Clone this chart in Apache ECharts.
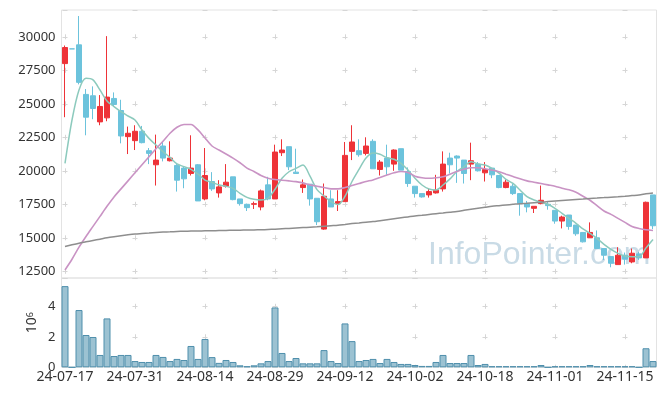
<!DOCTYPE html>
<html><head><meta charset="utf-8">
<script src="https://cdn.jsdelivr.net/npm/echarts@6/dist/echarts.min.js"></script>
<style>html,body{margin:0;padding:0;background:#fff}#c{width:665px;height:396px}</style>
</head><body><div id="c"></div>
<script>
const dates = ['24-07-17','24-07-18','24-07-19','24-07-22','24-07-23','24-07-24','24-07-25','24-07-26','24-07-29','24-07-30',
'24-07-31','24-08-01','24-08-02','24-08-05','24-08-06','24-08-07','24-08-08','24-08-09','24-08-12','24-08-13',
'24-08-14','24-08-16','24-08-19','24-08-20','24-08-21','24-08-22','24-08-23','24-08-26','24-08-27','24-08-28',
'24-08-29','24-08-30','24-09-02','24-09-03','24-09-04','24-09-05','24-09-06','24-09-09','24-09-10','24-09-11',
'24-09-12','24-09-13','24-09-19','24-09-20','24-09-23','24-09-24','24-09-25','24-09-26','24-09-27','24-09-30',
'24-10-02','24-10-04','24-10-07','24-10-08','24-10-10','24-10-11','24-10-14','24-10-15','24-10-16','24-10-17',
'24-10-18','24-10-21','24-10-22','24-10-23','24-10-24','24-10-25','24-10-28','24-10-29','24-10-30','24-10-31',
'24-11-01','24-11-04','24-11-05','24-11-06','24-11-07','24-11-08','24-11-11','24-11-12','24-11-13','24-11-14',
'24-11-15','24-11-18','24-11-19','24-11-20','24-11-21'];

const opens  = [28000,29100,29400,25700,25600,23650,23950,25400,24500,22550,22250,22950,21500,20450,21850,20750,20400,20200,19800,20450,
17900,19200,18350,18850,19550,17900,17500,17500,17300,18950,17900,21350,21800,19900,18750,19000,17950,15650,17900,17550,
17700,21450,21500,21300,22200,20100,20950,20500,21650,19950,18850,18300,18200,18350,18650,20950,21100,20800,20500,20500,
19850,20200,19650,18750,18850,18300,17550,17200,17550,17500,17050,16250,16700,15950,15400,15000,15000,14200,13600,13000,
13700,13200,13800,13500,18200];
const closes = [29200,29100,26600,24000,24650,24800,25500,24950,22600,22800,22950,22100,21300,20800,20950,20950,19300,19400,20200,17750,
19650,18650,18800,19150,17850,17550,17250,17550,18500,17900,21400,21550,20300,19800,18950,17900,16200,18100,17300,17700,
21150,22150,21200,21850,20150,20650,20300,21550,20050,19050,18300,18050,18450,18550,20500,20450,20950,19800,20750,20000,
20100,19700,18750,19150,18300,17550,17300,17350,17800,17400,16250,16550,15850,15300,14700,15400,14200,13700,13100,13700,
13400,13850,13500,17650,15900];
const lows   = [24000,29100,26450,22650,23850,23400,23700,24800,22050,21250,21550,22050,20500,18900,20700,20700,18450,18700,19650,17750,
17800,18500,18000,18750,17800,17400,17000,17150,17050,17800,17900,21100,20050,19800,18350,17400,15950,15600,17300,17000,
17700,20800,21050,21150,20150,19650,19700,20000,20050,18800,18000,18000,18000,18300,18450,19800,19100,19050,19300,19950,
19200,19450,18700,18700,18200,16650,16900,16850,17500,17100,16050,15700,15600,15150,14650,15000,14200,13350,12800,13000,
13000,13100,13350,13500,15650];
const highs  = [29350,29100,31550,26100,26300,25650,30050,25850,25300,23300,23400,23350,21700,22700,22150,22200,20500,20350,22650,20500,
21700,19900,19300,20500,19550,17900,17550,17700,18600,19550,21950,22350,21800,21650,19350,19000,17950,19050,18550,18550,
22150,23400,22350,22500,22350,20800,21950,21600,21650,20250,18850,18300,18700,19700,21450,21350,21150,20800,22100,20650,
20650,20200,19650,19350,19050,18300,17750,17350,18900,17700,17050,16650,16700,15950,15400,16150,15550,14200,13600,14300,
13900,14200,13950,17700,18200];

const ma5   = [20550,23790,26030,26900,26780,26030,25210,24790,24410,24090,23790,23040,22420,21920,21430,21000,20510,20310,20110,19760,
19310,19140,18940,18840,18690,18320,18020,17870,17820,17950,18620,19440,19930,20180,20430,19600,18600,18120,17700,17480,
18100,19200,20100,20950,21320,21230,20980,20860,20560,20060,19440,18940,18640,18570,18940,19400,19950,20300,20680,20510,
20430,20180,19820,19360,19060,18570,18070,17820,17650,17500,17200,16830,16450,16080,15660,15330,14960,14510,14140,13840,
13640,13590,13590,14250,14880];
const ma20  = [12600,13400,14300,15100,15850,16600,17350,18050,18650,19250,19850,20450,21050,21650,22200,22800,23250,23450,23450,23050,
22450,21850,21550,21250,20950,20600,20200,19950,19650,19450,19350,19300,19250,19190,19100,18950,18850,18750,18650,18650,
18750,18900,19050,19200,19320,19500,19680,19850,19950,19870,19600,19480,19440,19480,19560,19750,19950,20120,20230,20230,
20150,20050,19930,19750,19580,19400,19250,19150,19050,18950,18850,18700,18580,18400,18100,17800,17400,17000,16750,16450,
16150,15850,15700,15600,15550];
const ma120 = [14350,14480,14600,14700,14800,14900,15000,15080,15150,15220,15280,15320,15360,15400,15430,15450,15470,15490,15500,15510,
15520,15530,15540,15550,15560,15570,15580,15590,15600,15620,15640,15670,15700,15730,15760,15790,15820,15860,15900,15940,
16000,16060,16110,16160,16210,16280,16350,16420,16490,16560,16630,16680,16740,16800,16850,16910,16970,17050,17130,17210,
17280,17350,17400,17450,17500,17550,17580,17620,17660,17700,17740,17780,17820,17860,17900,17940,17970,18000,18030,18060,
18100,18150,18200,18280,18350];

const volumes = [5330000,0,3760000,2120000,1990000,810000,3210000,740000,810000,810000,410000,350000,350000,810000,680000,410000,550000,480000,1400000,550000,
1860000,670000,290000,480000,350000,130000,70000,130000,260000,410000,3930000,940000,410000,610000,260000,260000,260000,1130000,410000,280000,
2880000,1720000,410000,480000,550000,280000,550000,350000,220000,220000,150000,90000,90000,350000,810000,280000,280000,280000,810000,150000,
220000,70000,70000,70000,70000,70000,70000,70000,150000,0,70000,70000,70000,70000,70000,150000,70000,70000,70000,70000,
70000,70000,0,1250000,410000];

const FONT = '"Noto Sans", sans-serif';
const UP = '#ee3338', DOWN = '#6cc3dc';
const candles = dates.map((d, i) => [opens[i], closes[i], lows[i], highs[i]]);

const crossH = {show: true, lineStyle: {color: '#d6d6d6', width: 1, type: [5, 65], dashOffset: 69}};

const chart = echarts.init(document.getElementById('c'), null, {renderer: 'canvas'});
chart.setOption({
  animation: false,
  backgroundColor: '#fff',
  grid: [
    {left: 61.5, right: 8.5, top: 10, height: 268, show: true, borderColor: '#e3e3e3', borderWidth: 1},
    {left: 61.5, right: 8.5, top: 278, height: 89.3, show: true, borderColor: '#e3e3e3', borderWidth: 1}
  ],
  graphic: [{
    type: 'text', x: 428, y: 255, z: -10, silent: true,
    style: {text: 'InfoPointer.com', fontSize: 32, fontFamily: '"Liberation Sans", Arial, sans-serif', fill: '#c9dbe6', align: 'left', verticalAlign: 'middle'}
  }],
  xAxis: [
    {type: 'category', gridIndex: 0, data: dates, boundaryGap: true,
     axisLine: {show: false}, axisTick: {show: false}, axisLabel: {show: false},
     splitLine: {show: true, interval: 9, alignWithLabel: true, lineStyle: {color: '#d6d6d6', width: 1, type: [5, 28.5], dashOffset: 9.2}}},
    {type: 'category', gridIndex: 1, data: dates, boundaryGap: true,
     axisLine: {show: false}, axisTick: {show: false},
     axisLabel: {interval: 9, margin: 3, fontSize: 14, color: '#333', fontFamily: FONT},
     splitLine: {show: true, interval: 9, alignWithLabel: true, lineStyle: {color: '#d6d6d6', width: 1, type: [5, 25.46], dashOffset: 4.66}}}
  ],
  yAxis: [
    {type: 'value', gridIndex: 0, min: 12000, max: 32000, minInterval: 2500, maxInterval: 2500,
     axisLine: {show: false}, axisTick: {show: false},
     axisLabel: {showMinLabel: false, showMaxLabel: false, margin: 6, fontSize: 13, color: '#333', fontFamily: FONT, formatter: v => String(v)},
     splitLine: crossH},
    {type: 'value', gridIndex: 1, min: 0, max: v => v.max * 1.1, interval: 2000000,
     axisLine: {show: false}, axisTick: {show: false},
     axisLabel: {showMaxLabel: false, hideOverlap: false, margin: 6, fontSize: 13, color: '#333', fontFamily: FONT, formatter: v => String(v / 1000000)},
     name: '{b|10}{s|6}', nameLocation: 'middle', nameRotate: 90, nameGap: 22, nameMoveOverlap: false,
     nameTextStyle: {color: '#333', fontFamily: FONT, rich: {
       b: {fontSize: 14, color: '#333', fontFamily: FONT, verticalAlign: 'bottom'},
       s: {fontSize: 9, color: '#333', fontFamily: FONT, verticalAlign: 'top'}}},
     splitLine: crossH}
  ],
  series: [
    {type: 'candlestick', xAxisIndex: 0, yAxisIndex: 0, data: candles, barWidth: 5,
     itemStyle: {color: UP, color0: DOWN, borderColor: UP, borderColor0: DOWN, borderWidth: 1}},
    {type: 'line', name: 'MA5', xAxisIndex: 0, yAxisIndex: 0, data: ma5, showSymbol: false, smooth: 0.3,
     lineStyle: {color: '#8ccabd', width: 1.5}},
    {type: 'line', name: 'MA20', xAxisIndex: 0, yAxisIndex: 0, data: ma20, showSymbol: false, smooth: 0.3,
     lineStyle: {color: '#c993c4', width: 1.6}},
    {type: 'line', name: 'MA120', xAxisIndex: 0, yAxisIndex: 0, data: ma120, showSymbol: false, smooth: 0.3,
     lineStyle: {color: '#8e8e8e', width: 1.5}},
    {type: 'bar', xAxisIndex: 1, yAxisIndex: 1, data: volumes, barWidth: '100%',
     itemStyle: {color: '#9cc2d2', borderColor: '#4f8fac', borderWidth: 1}}
  ]
});
</script></body></html>
